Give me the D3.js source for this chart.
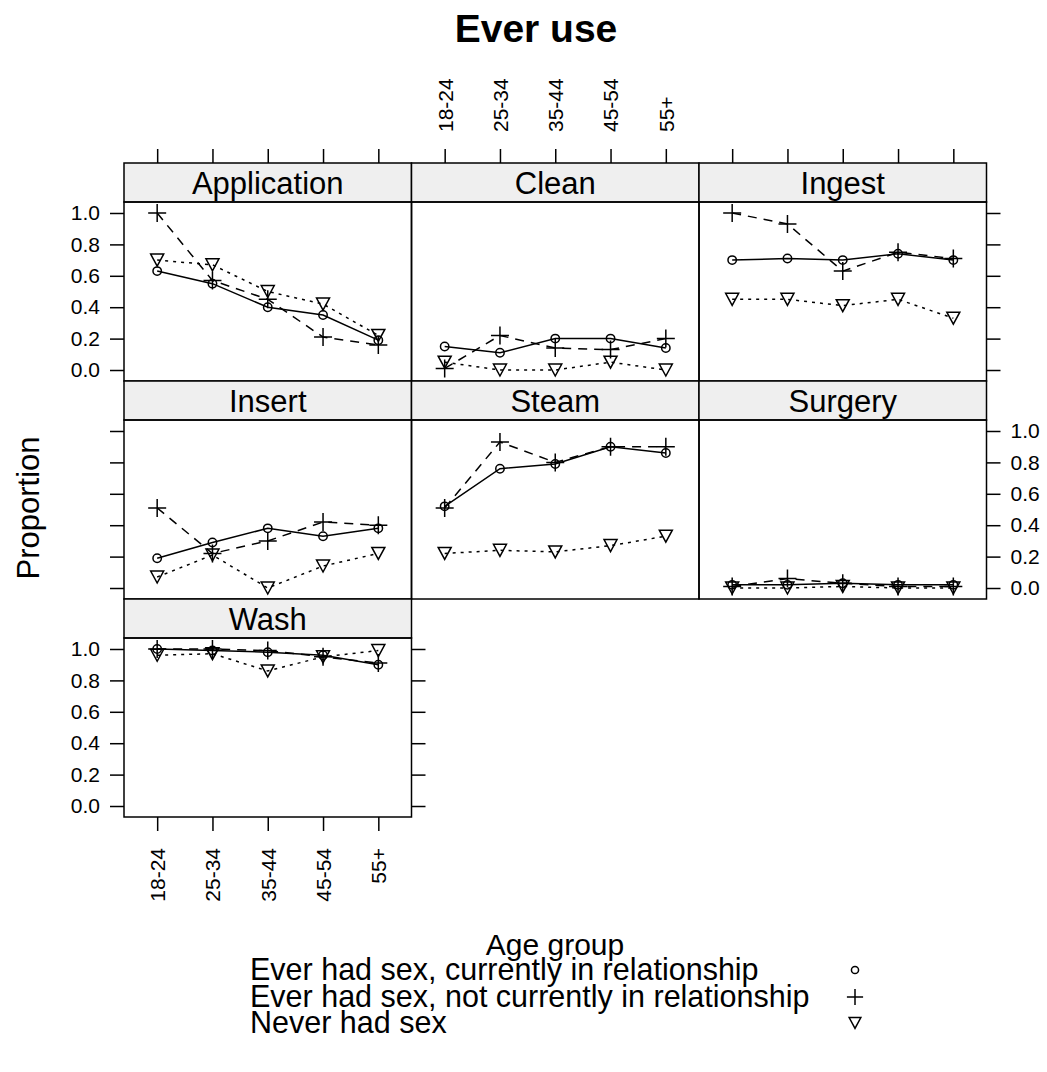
<!DOCTYPE html>
<html><head><meta charset="utf-8">
<script src="https://cdn.jsdelivr.net/npm/d3@7"></script>
<style>
body{margin:0;background:#fff}
text{font-family:"Liberation Sans",Arial,sans-serif;fill:#000}
</style>
</head><body><svg id="c" width="1047" height="1072"></svg>
<script>
const ageGroups = ["18-24","25-34","35-44","45-54","55+"];
const panelNames = ["Application","Clean","Ingest","Insert","Steam","Surgery","Wash"];
const seriesNames = ["Ever had sex, currently in relationship","Ever had sex, not currently in relationship","Never had sex"];
const yTicks = [0,0.2,0.4,0.6,0.8,1.0];
// rows follow panelNames order
const relValues = [
 [0.63,0.55,0.40,0.35,0.19],
 [0.15,0.11,0.20,0.20,0.14],
 [0.70,0.71,0.70,0.74,0.70],
 [0.19,0.29,0.38,0.33,0.38],
 [0.52,0.76,0.79,0.90,0.86],
 [0.02,0.02,0.03,0.02,0.02],
 [1.00,0.99,0.98,0.96,0.90]
];
const notRelValues = [
 [1.00,0.57,0.45,0.21,0.16],
 [0.01,0.22,0.14,0.13,0.20],
 [1.00,0.93,0.63,0.75,0.71],
 [0.51,0.22,0.30,0.42,0.40],
 [0.51,0.93,0.80,0.90,0.90],
 [0.01,0.06,0.03,0.01,0.01],
 [1.00,1.00,0.99,0.95,0.91]
];
const neverValues = [
 [0.70,0.67,0.50,0.42,0.22],
 [0.05,0.00,0.00,0.05,0.00],
 [0.45,0.45,0.41,0.45,0.33],
 [0.07,0.21,0.00,0.14,0.22],
 [0.22,0.24,0.23,0.27,0.33],
 [0.00,0.00,0.01,0.00,0.00],
 [0.96,0.97,0.86,0.95,0.99]
];
const seriesValues = [relValues, notRelValues, neverValues];

const svg = d3.select("#c");
const colX = [124, 411.5, 699], colW = 287.5;
const rowY = [163, 381, 599], stripH = 39, rowH = 218;
const TICK = 14;
const lineDash = [null, "9,7", "3,5"];

function markerPath(k, s){
  if(k===0){ const r=4.2*s; return `M${r},0A${r},${r} 0 1,1 ${-r},0A${r},${r} 0 1,1 ${r},0Z`; }
  if(k===1){ const h=9*s; return `M${-h},0H${h}M0,${-h}V${h}`; }
  const w=6.5*s, h=6*s; return `M${-w},${-h}H${w}L0,${h}Z`;
}

const x = d3.scalePoint().domain(ageGroups).range([0, colW]).padding(0.6);

panelNames.forEach((name, i) => {
  const col = i % 3, row = Math.floor(i / 3);
  const px = colX[col], top = rowY[row];
  const pTop = top + stripH, pBot = top + rowH;
  const y = d3.scaleLinear().domain([-0.07, 1.07]).range([pBot, pTop]);
  const g = svg.append("g").attr("transform", `translate(${px},0)`);

  // strip
  g.append("rect").attr("x",0).attr("y",top).attr("width",colW).attr("height",stripH)
    .attr("fill","#efefef").attr("stroke","#000").attr("stroke-width",1.5);
  g.append("text").attr("x",colW/2).attr("y",top+31).attr("text-anchor","middle")
    .attr("font-size",31).text(name);

  // series
  seriesValues.forEach((vals, k) => {
    const data = vals[i].map((v, j) => ({a: ageGroups[j], v}));
    const line = d3.line().x(d => x(d.a)).y(d => y(d.v));
    g.append("path").attr("d", line(data)).attr("fill","none").attr("stroke","#000")
      .attr("stroke-width",1.5).attr("stroke-dasharray", lineDash[k]);
    g.selectAll(null).data(data).enter().append("path")
      .attr("transform", d => `translate(${x(d.a)},${y(d.v)})`)
      .attr("d", markerPath(k, 1)).attr("fill","none").attr("stroke","#000").attr("stroke-width",1.5);
  });

  // panel border
  g.append("rect").attr("x",0).attr("y",pTop).attr("width",colW).attr("height",pBot-pTop)
    .attr("fill","none").attr("stroke","#000").attr("stroke-width",1.5);

  // y axes
  const showLeft = col === 0;
  const showRight = (col === 2) || (i === 6);
  const leftLabels = col === 0 && row !== 1;
  const rightLabels = i === 5;
  if (showLeft) {
    const ax = d3.axisLeft(y).tickValues(yTicks).tickSize(TICK).tickPadding(10)
      .tickFormat(leftLabels ? d3.format(".1f") : () => "");
    const ga = g.append("g").call(ax);
    styleAxis(ga);
  }
  if (showRight) {
    const ax = d3.axisRight(y).tickValues(yTicks).tickSize(TICK).tickPadding(10)
      .tickFormat(rightLabels ? d3.format(".1f") : () => "");
    const ga = g.append("g").attr("transform",`translate(${colW},0)`).call(ax);
    styleAxis(ga);
  }
  // x axes
  if (row === 0) {
    const ax = d3.axisTop(x).tickSize(TICK).tickPadding(17).tickFormat(col === 1 ? d => d : () => "");
    const ga = g.append("g").attr("transform",`translate(0,${top})`).call(ax);
    styleAxis(ga);
    ga.selectAll(".tick text").attr("text-anchor","start").attr("dy","0.35em")
      .attr("transform", `rotate(-90,0,${-TICK-17})`).attr("y", -TICK-17).attr("x",0);
  }
  if (i === 6) {
    const ax = d3.axisBottom(x).tickSize(TICK).tickPadding(17);
    const ga = g.append("g").attr("transform",`translate(0,${pBot})`).call(ax);
    styleAxis(ga);
    ga.selectAll(".tick text").attr("text-anchor","end").attr("dy","0.35em")
      .attr("transform", `rotate(-90,0,${TICK+17})`).attr("y", TICK+17).attr("x",0);
  }
});

function styleAxis(ga){
  ga.select(".domain").remove();
  ga.selectAll(".tick line").attr("stroke","#000").attr("stroke-width",1.5);
  ga.selectAll(".tick text").attr("font-size",21).attr("font-family","Liberation Sans, Arial, sans-serif").attr("fill","#000");
}

// titles
svg.append("text").attr("x",536).attr("y",42).attr("text-anchor","middle")
  .attr("font-size",39).attr("font-weight","bold").text("Ever use");
svg.append("text").attr("transform","translate(39,508) rotate(-90)").attr("text-anchor","middle")
  .attr("font-size",31).text("Proportion");
svg.append("text").attr("x",555).attr("y",955).attr("text-anchor","middle")
  .attr("font-size",30).text("Age group");

// legend
const legY = [980, 1007, 1033];
const leg = svg.append("g");
seriesNames.forEach((s, k) => {
  leg.append("text").attr("x",250).attr("y",legY[k]).attr("font-size",30.5).text(s);
  leg.append("path").attr("transform",`translate(855,${legY[k]-10})`)
    .attr("d", markerPath(k, k===0 ? 0.85 : 0.9)).attr("fill","none").attr("stroke","#000").attr("stroke-width",1.5);
});
</script>
</body></html>
